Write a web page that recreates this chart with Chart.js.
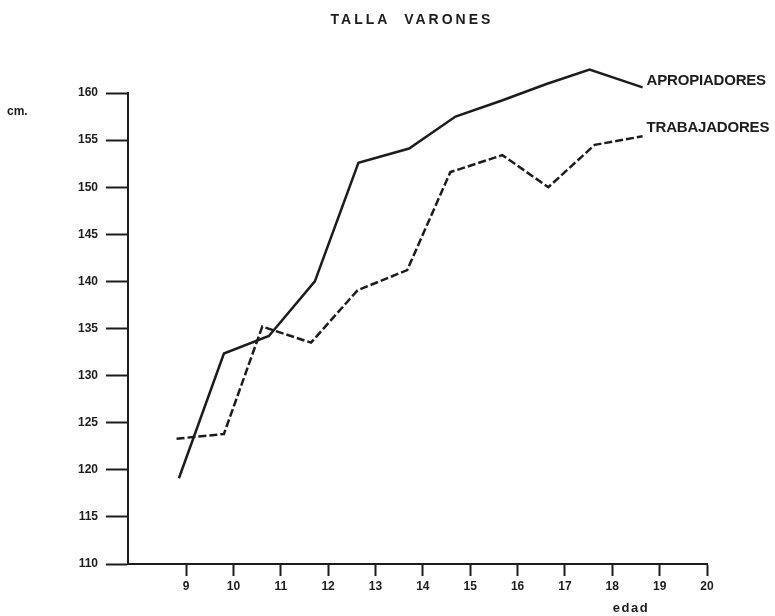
<!DOCTYPE html>
<html>
<head>
<meta charset="utf-8">
<script src="https://cdn.jsdelivr.net/npm/chart.js@4.4.1/dist/chart.umd.min.js"></script>
<style>
  html, body { margin: 0; padding: 0; background: #fff; }
  #wrap { width: 775px; height: 616px; }
</style>
</head>
<body>
<div id="wrap"><canvas id="c" width="775" height="616"></canvas></div>
<script>
// ---- data ----
const apropAges   = [8.85, 9.8, 10.75, 11.72, 12.64, 13.71, 14.69, 15.67, 16.61, 17.52, 18.64];
const apropTalla  = [119.1, 132.35, 134.2, 140.0, 152.6, 154.1, 157.5, 159.2, 160.95, 162.5, 160.6];
const trabAges    = [8.8, 9.8, 10.61, 11.64, 12.62, 13.67, 14.58, 15.68, 16.65, 17.63, 18.64];
const trabTalla   = [123.3, 123.8, 135.2, 133.5, 139.05, 141.2, 151.6, 153.4, 150.0, 154.5, 155.4];
const edadTicks   = [9, 10, 11, 12, 13, 14, 15, 16, 17, 18, 19, 20];
const tallaTicks  = [110, 115, 120, 125, 130, 135, 140, 145, 150, 155, 160];
const seriesNames = ['APROPIADORES', 'TRABAJADORES'];
const titleText   = 'TALLA  VARONES';
const yUnit       = 'cm.';
const xName       = 'edad';

const FONT = '"Liberation Sans", Arial, Helvetica, sans-serif';
const INK = '#1c1c1c';

const toPts = (xs, ys) => xs.map((x, i) => ({ x: x, y: ys[i] }));

const textPlugin = {
  id: 'texts',
  afterDraw(chart) {
    const ctx = chart.ctx;
    const xs = chart.scales.x, ys = chart.scales.y;
    ctx.save();
    ctx.fillStyle = INK;
    // title
    ctx.font = 'bold 14px ' + FONT;
    ctx.letterSpacing = '3px';
    ctx.textAlign = 'center';
    ctx.textBaseline = 'middle';
    ctx.fillText(titleText, 412, 20);
    // series labels next to line ends
    ctx.letterSpacing = '-0.2px';
    ctx.font = 'bold 15px ' + FONT;
    ctx.textAlign = 'left';
    chart.data.datasets.forEach((ds, i) => {
      const last = ds.data[ds.data.length - 1];
      const px = xs.getPixelForValue(last.x);
      const py = ys.getPixelForValue(last.y);
      ctx.fillText(seriesNames[i], px + 4, py - (i === 0 ? 6 : 8));
    });
    // unit
    ctx.letterSpacing = '0px';
    ctx.font = 'bold 12px ' + FONT;
    ctx.fillText(yUnit, 7, 112);
    // x name
    ctx.letterSpacing = '1.5px';
    ctx.font = 'bold 13px ' + FONT;
    ctx.textAlign = 'center';
    ctx.fillText(xName, 631, 608);
    ctx.restore();
  }
};

new Chart(document.getElementById('c'), {
  type: 'line',
  data: {
    datasets: [
      {
        label: seriesNames[0],
        data: toPts(apropAges, apropTalla),
        borderColor: INK,
        borderWidth: 2.5,
        pointRadius: 0,
        tension: 0,
        fill: false,
        clip: false
      },
      {
        label: seriesNames[1],
        data: toPts(trabAges, trabTalla),
        borderColor: INK,
        borderWidth: 2.5,
        borderDash: [8, 3],
        pointRadius: 0,
        tension: 0,
        fill: false,
        clip: false
      }
    ]
  },
  options: {
    responsive: false,
    animation: false,
    events: [],
    layout: { padding: { top: 93, right: 68, left: 0, bottom: 0 } },
    plugins: {
      legend: { display: false },
      title: { display: false },
      tooltip: { enabled: false }
    },
    scales: {
      x: {
        type: 'linear',
        min: 7.775,
        max: 20,
        afterBuildTicks: (s) => { s.ticks = edadTicks.map(v => ({ value: v })); },
        afterFit: (s) => { s.height = 52; },
        grid: {
          display: true,
          drawOnChartArea: false,
          drawTicks: true,
          tickLength: 12,
          tickWidth: 2,
          color: INK
        },
        border: { display: true, color: INK, width: 2 },
        ticks: {
          color: INK,
          padding: 3,
          maxRotation: 0,
          autoSkip: false,
          font: { family: FONT, size: 12, weight: 'bold' }
        }
      },
      y: {
        type: 'linear',
        min: 110,
        max: 160,
        afterBuildTicks: (s) => { s.ticks = tallaTicks.map(v => ({ value: v })); },
        afterFit: (s) => { s.width = 128; },
        grid: {
          display: true,
          drawOnChartArea: false,
          drawTicks: true,
          tickLength: 22,
          tickWidth: 2,
          color: INK
        },
        border: { display: true, color: INK, width: 2 },
        ticks: {
          color: INK,
          padding: 8,
          autoSkip: false,
          font: { family: FONT, size: 12, weight: 'bold' }
        }
      }
    }
  },
  plugins: [textPlugin]
});
</script>
</body>
</html>
